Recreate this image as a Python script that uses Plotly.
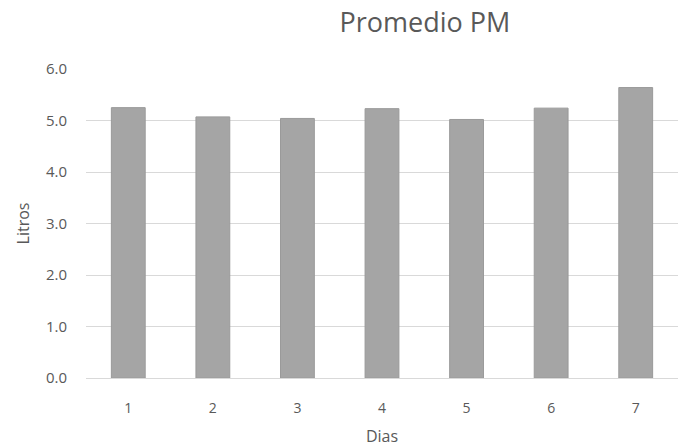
import plotly.graph_objects as go

# Average afternoon consumption per day
dias = ["1", "2", "3", "4", "5", "6", "7"]
litros = [5.25, 5.07, 5.04, 5.23, 5.02, 5.24, 5.64]
y_ticks = [0, 1, 2, 3, 4, 5, 6]
y_tick_labels = ["0.0", "1.0", "2.0", "3.0", "4.0", "5.0", "6.0"]

text_color = "#595959"
grid_color = "#d9d9d9"
font_family = "Open Sans, Noto Sans, sans-serif"

fig = go.Figure(
    go.Bar(
        x=dias,
        y=litros,
        marker=dict(color="#a5a5a5", line=dict(color="#9a9a9a", width=1)),
        width=0.4,
        hoverinfo="x+y",
    )
)

fig.update_layout(
    width=678,
    height=448,
    margin=dict(l=86, r=0, t=69, b=70),
    paper_bgcolor="white",
    plot_bgcolor="white",
    showlegend=False,
    title=dict(
        text="Promedio PM",
        x=425 / 678,
        xanchor="center",
        xref="container",
        y=1 - 23 / 448,
        yanchor="middle",
        yref="container",
        font=dict(family=font_family, size=27, color=text_color),
    ),
    font=dict(family=font_family, color=text_color),
)

fig.update_xaxes(
    type="category",
    showgrid=False,
    showline=False,
    ticks="",
    ticklabelstandoff=20,
    tickfont=dict(size=14, color=text_color),
    title=dict(text="Dias", font=dict(size=16, color=text_color), standoff=14),
)

fig.update_yaxes(
    range=[0, 6],
    tickvals=y_ticks,
    ticktext=y_tick_labels,
    showgrid=True,
    gridcolor=grid_color,
    gridwidth=1,
    zeroline=True,
    zerolinecolor=grid_color,
    zerolinewidth=1,
    showline=False,
    ticks="",
    ticklabelstandoff=18,
    tickfont=dict(size=15, color=text_color),
    title=dict(text="Litros", font=dict(size=16, color=text_color), standoff=12),
)

fig.write_html("out.html")
